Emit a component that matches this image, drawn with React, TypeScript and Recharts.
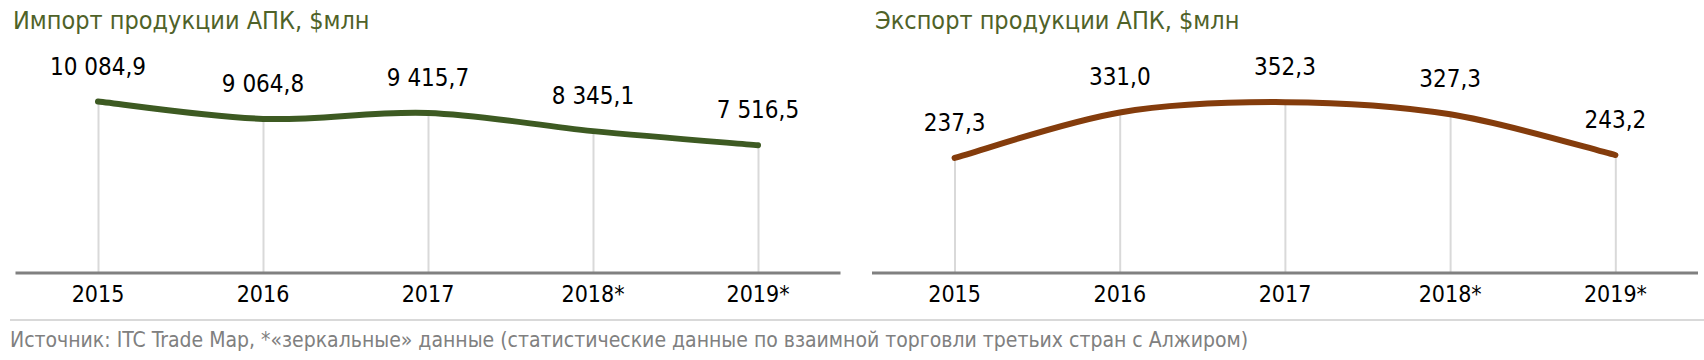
import React from 'react';
import { ComposedChart, Line, Bar, XAxis, YAxis, LabelList } from 'recharts';

const years = ['2015', '2016', '2017', '2018*', '2019*'];
const importValues = [10084.9, 9064.8, 9415.7, 8345.1, 7516.5];
const exportValues = [237.3, 331.0, 352.3, 327.3, 243.2];

const importData = years.map((y, i) => ({ year: y, v: importValues[i] }));
const exportData = years.map((y, i) => ({ year: y, v: exportValues[i] }));

const FONT = '"DejaVu Sans Condensed", "DejaVu Sans", sans-serif';

function fmt(v: any) {
  const [i, d] = Number(v).toFixed(1).split('.');
  return i.replace(/\B(?=(\d{3})+(?!\d))/g, ' ') + ',' + d;
}

// excel-like smoothing (catmull-rom through the points)
function smoothCurve(context: any) {
  let pts: number[][] = [];
  return {
    areaStart() {},
    areaEnd() {},
    lineStart() { pts = []; },
    point(x: number, y: number) { pts.push([+x, +y]); },
    lineEnd() {
      if (!pts.length) return;
      context.moveTo(pts[0][0], pts[0][1]);
      for (let i = 0; i < pts.length - 1; i++) {
        const p0 = pts[i - 1] || pts[i], p1 = pts[i], p2 = pts[i + 1], p3 = pts[i + 2] || pts[i + 1];
        context.bezierCurveTo(
          p1[0] + (p2[0] - p0[0]) / 6, p1[1] + (p2[1] - p0[1]) / 6,
          p2[0] - (p3[0] - p1[0]) / 6, p2[1] - (p3[1] - p1[1]) / 6,
          p2[0], p2[1]
        );
      }
    },
  };
}

function Panel({ data, color, max, margin }: { data: any[], color: string, max: number, margin: any }) {
  return (
    <ComposedChart width={852} height={320} data={data} margin={margin}>
      <XAxis dataKey="year" axisLine={{ stroke: '#808080', strokeWidth: 3 }} tickLine={false}
        tickSize={0} tickMargin={13} tick={{ fontSize: 23, fill: '#000' }} interval={0} />
      <YAxis hide domain={[0, max]} />
      <Bar dataKey="v" barSize={2} fill="#d9d9d9" isAnimationActive={false} />
      <Line dataKey="v" type={smoothCurve as any} stroke={color} strokeWidth={6} strokeLinecap="round"
        dot={false} activeDot={false} isAnimationActive={false}>
        <LabelList dataKey="v" position="top" offset={27} formatter={fmt} fontSize={24} fill="#000" />
      </Line>
    </ComposedChart>
  );
}

export default function App() {
  return (
    <div style={{ position: 'absolute', left: 0, top: 0, width: 1704, height: 360, background: '#fff', fontFamily: FONT, fontStretch: 'condensed' }}>
      <div style={{ position: 'absolute', left: 13, top: 8, fontSize: 25, lineHeight: 1, color: '#4f6228', whiteSpace: 'nowrap' }}>
        Импорт продукции АПК, $млн
      </div>
      <div style={{ position: 'absolute', left: 875, top: 8, fontSize: 25, lineHeight: 1, color: '#4f6228', whiteSpace: 'nowrap' }}>
        Экспорт продукции АПК, $млн
      </div>
      <div style={{ position: 'absolute', left: 0, top: 0 }}>
        <Panel data={importData} color="#3d5a22" max={12000} margin={{ top: 69, right: 11.5, left: 15.5, bottom: 17 }} />
      </div>
      <div style={{ position: 'absolute', left: 852, top: 0 }}>
        <Panel data={exportData} color="#843c0c" max={400} margin={{ top: 79, right: 6, left: 20, bottom: 17 }} />
      </div>
      <div style={{ position: 'absolute', left: 10, right: 0, top: 319, height: 2, background: '#d9d9d9' }} />
      <div style={{ position: 'absolute', left: 10, top: 330, fontSize: 21, lineHeight: 1, color: '#808080', whiteSpace: 'nowrap' }}>
        Источник: ITC Trade Map, *«зеркальные» данные (статистические данные по взаимной торговли третьих стран с Алжиром)
      </div>
    </div>
  );
}
